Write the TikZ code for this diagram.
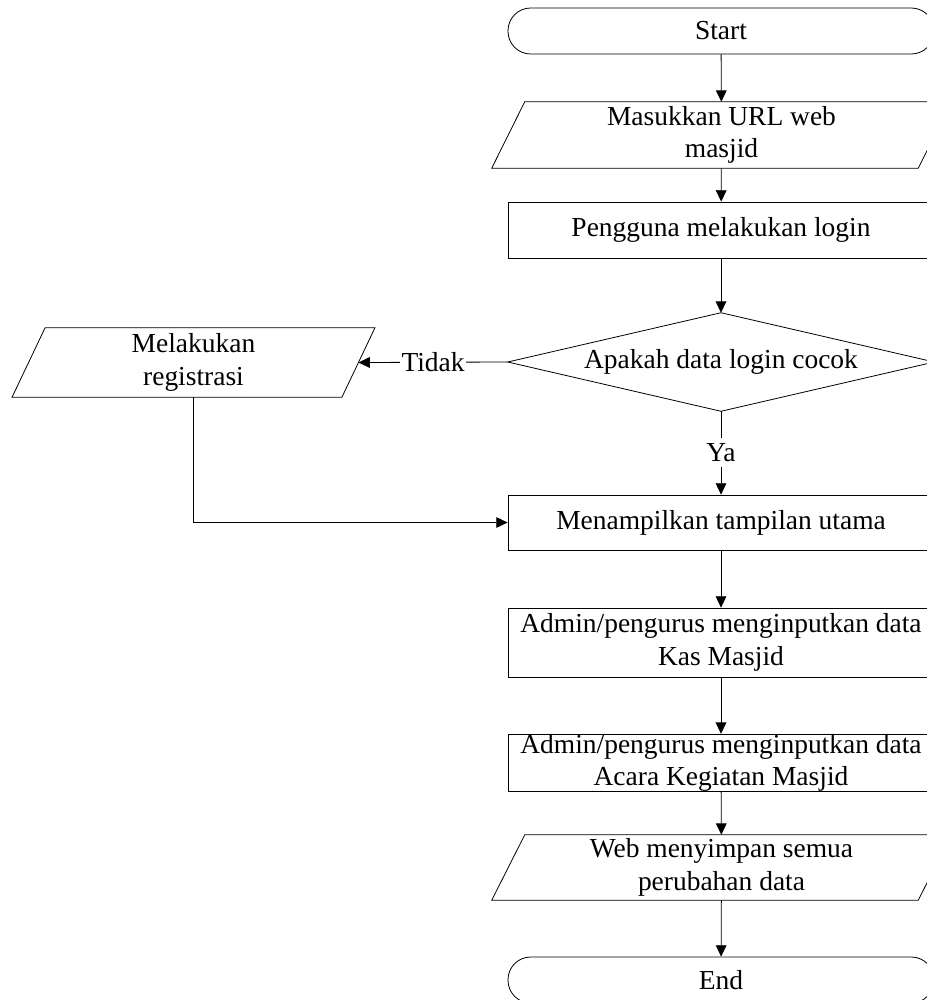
\documentclass[tikz,border=0pt]{standalone}
\usepackage{fontspec}
\setmainfont{Liberation Serif}
\usetikzlibrary{arrows.meta}
\begin{document}
\begin{tikzpicture}[x=0.75pt,y=-0.75pt,
  ln/.style={draw=black, line width=0.6pt},
  base/.style={align=center, font=\fontsize{20.6}{24.5}\selectfont, inner sep=0pt, minimum width=319.5pt},
  term/.style={base, ln, rounded corners=17pt},
  proc/.style={base, ln, rectangle},
  io/.style={base, rectangle},
  arr/.style={ln, -{Triangle[length=8.5pt,width=8pt]}},
  lbl/.style={font=\fontsize{20.6}{24.5}\selectfont, fill=white, inner sep=2pt}
]
\useasboundingbox (0,0) rectangle (927,1000);
\clip (0,0) rectangle (927,1000);

\node[term, minimum height=34.5pt] (start) at (721,31) {Start};
\node[io, minimum height=49.5pt] (in1) at (721.5,135) {Masukkan URL web\\masjid};
\node[proc, minimum height=42pt] (login) at (721,230) {Pengguna melakukan login};
\node[io, minimum height=73.5pt] (dec) at (721,362) {Apakah data login cocok};
\node[io, minimum width=247pt, minimum height=51.75pt] (reg) at (193.5,362.5) {Melakukan\\registrasi};
\node[proc, minimum height=41.25pt] (main) at (721,522.5) {Menampilkan tampilan utama};
\node[proc, minimum height=51.75pt] (kas) at (721,642.5) {Admin/pengurus menginputkan data\\Kas Masjid};
\node[proc, minimum height=42pt] (acara) at (721,763) {Admin/pengurus menginputkan data\\Acara Kegiatan Masjid};
\node[io, minimum height=48.75pt] (web) at (721.5,867.5) {Web menyimpan semua\\perubahan data};
\node[term, minimum height=34.5pt] (end) at (721,980) {End};

% parallelograms
\foreach \n in {in1,reg,web}{
  \draw[ln] ([xshift=-12.4pt]\n.south west) -- ([xshift=12.4pt]\n.north west)
    -- ([xshift=12.4pt]\n.north east) -- ([xshift=-12.4pt]\n.south east) -- cycle;
}
% diamond
\draw[ln] (dec.north) -- (dec.east) -- (dec.south) -- (dec.west) -- cycle;

% connectors
\draw[arr] (start) -- (in1);
\draw[arr] (in1) -- (login);
\draw[arr] (login) -- (dec.north);
\draw[arr] (dec.south) -- node[lbl, inner ysep=4pt] {Ya} (main);
\draw[arr] (dec.west) -- node[lbl, inner xsep=1pt] {Tidak} (reg.east);
\draw[arr] (reg.south) |- (main.west);
\draw[arr] (main) -- (kas);
\draw[arr] (kas) -- (acara);
\draw[arr] (acara) -- (web);
\draw[arr] (web) -- (end);
\end{tikzpicture}
\end{document}
